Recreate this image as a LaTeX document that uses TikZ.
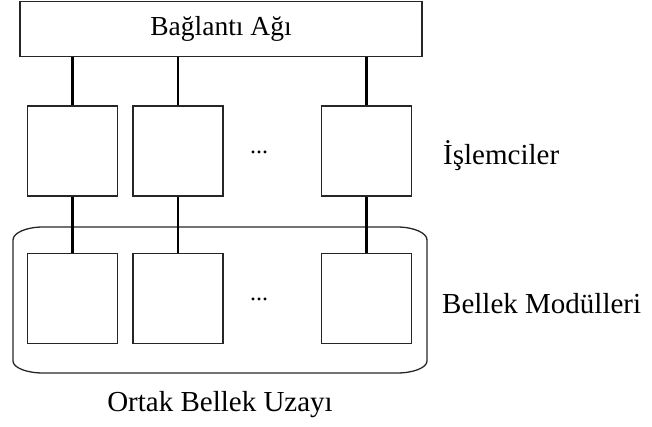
\documentclass[tikz,border=0pt]{standalone}
\usepackage{fontspec}
\setmainfont{Liberation Serif}
\begin{document}
\begin{tikzpicture}[x=1pt,y=-1pt,
  box/.style={draw=black!85,line width=1.3pt,fill=white,inner sep=0pt},
  unit/.style={box,minimum width=90pt,minimum height=90pt},
  link/.style={draw=black,line width=2.6pt},
  lbl/.style={inner sep=0pt,font=\fontsize{29}{32}\selectfont},
  dotsl/.style={inner sep=0pt,font=\fontsize{24}{26}\selectfont}]
\useasboundingbox (0,0) rectangle (652,427);

% interconnection network
\node[box,minimum width=402pt,minimum height=55pt,
      font=\fontsize{27.5}{30}\selectfont] (net) at (221,29) {Bağlantı Ağı};

% shared memory space outline with elliptic corners
\draw[draw=black!85,line width=1.3pt]
  (43,227) -- (397,227)
  .. controls (413.6,227) and (427,232.8) .. (427,240)
  -- (427,361)
  .. controls (427,367.6) and (413.6,373) .. (397,373)
  -- (43,373)
  .. controls (26.4,373) and (13,367.6) .. (13,361)
  -- (13,240)
  .. controls (13,232.8) and (26.4,227) .. (43,227) -- cycle;

% processors
\node[unit] (p1) at (72.5,151) {};
\node[unit] (p2) at (178,151) {};
\node[unit] (p3) at (366.5,151) {};
% memory modules
\node[unit] (m1) at (72.5,298.5) {};
\node[unit] (m2) at (178,298.5) {};
\node[unit] (m3) at (366.5,298.5) {};

\node[dotsl] (pd) at (259,152) {...};
\node[dotsl] (md) at (259,299) {...};

% connections
\foreach \i in {1,2,3}{
  \draw[link] (net.south -| p\i.north) -- (p\i.north);
  \draw[link] (p\i.south) -- (m\i.north);
}

\node[lbl,anchor=west] (lp) at (443,156) {İşlemciler};
\node[lbl,anchor=west] (lm) at (442,304) {Bellek Modülleri};
\node[lbl] (lo) at (220,405) {Ortak Bellek Uzayı};
\end{tikzpicture}
\end{document}
